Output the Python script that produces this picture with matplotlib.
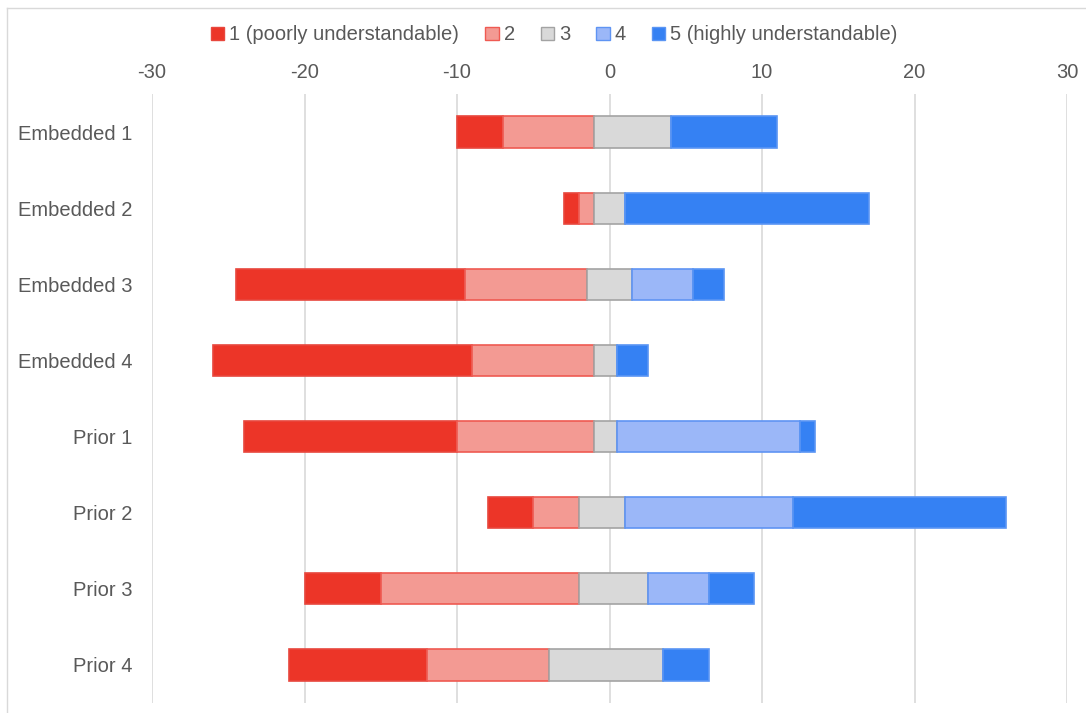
"""
理解度アンケートの発散型積み上げ棒グラフ
"""

import matplotlib
import matplotlib.pyplot as plt
from matplotlib.lines import Line2D
from matplotlib.patches import Patch

matplotlib.use("Agg")

# データ
categories = [
    "Embedded 1", "Embedded 2", "Embedded 3", "Embedded 4",
    "Prior 1", "Prior 2", "Prior 3", "Prior 4",
]
starts = [-10, -3, -24.5, -26, -24, -8, -20, -21]
score1 = [3, 1, 15, 17, 14, 3, 5, 9]
score2 = [6, 1, 8, 8, 9, 3, 13, 8]
score3 = [5, 2, 3, 1.5, 1.5, 3, 4.5, 7.5]
score4 = [0, 0, 4, 0, 12, 11, 4, 0]
score5 = [7, 16, 2, 2, 1, 14, 3, 3]
series_labels = [
    "1 (poorly understandable)", "2", "3", "4", "5 (highly understandable)",
]
x_ticks = [-30, -20, -10, 0, 10, 20, 30]

colors = ["#ec3528", "#f39a93", "#d9d9d9", "#9bb7f8", "#3581f3"]
edges = ["#e8473d", "#ef5a52", "#a3a3a3", "#5f94f3", "#5a95f4"]

plt.rcParams["font.family"] = ["Liberation Sans", "DejaVu Sans"]
plt.rcParams["axes.unicode_minus"] = False  # ハイフンでマイナスを表示

fig = plt.figure(figsize=(10.86, 7.13), dpi=100)
ax = fig.add_axes([152 / 1086, 1 - 703 / 713, 915 / 1086, 609 / 713])

y_pos = list(range(len(categories)))
left = list(starts)
for vals, col, ec in zip([score1, score2, score3, score4, score5], colors, edges):
    ax.barh(y_pos, vals, left=left, height=0.41, color=col,
            edgecolor=ec, linewidth=1.2, zorder=3)
    left = [l + v for l, v in zip(left, vals)]

ax.set_xlim(-30, 30)
ax.set_ylim(len(categories) - 0.5, -0.5)
ax.set_xticks(x_ticks)
ax.set_yticks(y_pos)
ax.set_yticklabels(categories)
ax.xaxis.tick_top()
ax.tick_params(axis="both", length=0, labelsize=14.5, labelcolor="#595959")
ax.tick_params(axis="x", pad=9)
ax.tick_params(axis="y", pad=14)
ax.grid(axis="x", color="#d9d9d9", linewidth=1.2, zorder=0)
for s in ax.spines.values():
    s.set_visible(False)

# 凡例
handles = [Patch(facecolor=c, edgecolor=e, linewidth=1) for c, e in zip(colors, edges)]
fig.legend(handles, series_labels, loc="center", bbox_to_anchor=(0.5105, 1 - 35 / 713),
           ncol=5, frameon=False, fontsize=14.5, labelcolor="#595959",
           handlelength=0.65, handleheight=0.65, handletextpad=0.25,
           columnspacing=1.3)

# 外枠
fig.add_artist(Line2D([6.5 / 1086, 6.5 / 1086], [0, 1 - 8 / 713], color="#d9d9d9", lw=1))
fig.add_artist(Line2D([6.5 / 1086, 1], [1 - 8 / 713, 1 - 8 / 713], color="#d9d9d9", lw=1))

plt.savefig("out.png", dpi=100)
plt.close()
